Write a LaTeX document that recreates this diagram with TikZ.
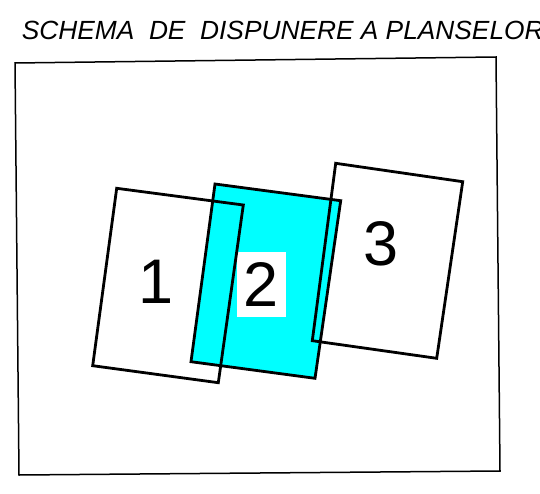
\documentclass[tikz,border=0pt]{standalone}
\usepackage{fontspec}
\setmainfont{Liberation Sans}
\definecolor{sheetcyan}{RGB}{0,255,255}
\begin{document}
\begin{tikzpicture}[x=1pt, y=-1pt,
    sheet/.style={line width=2.8pt, line join=miter},
    num/.style={inner sep=0pt, font=\fontsize{63}{70}\selectfont}]
    \useasboundingbox (0,0) rectangle (540,494);
    \node[anchor=base west, inner sep=0pt, font=\itshape\fontsize{26.3}{30}\selectfont] (title) at (21.7,39.3) {SCHEMA\ \ DE\ \ DISPUNERE A PLANSELOR};
    \draw[line width=1.5pt] (15,63) -- (496,57) -- (500,471) -- (19,475) -- cycle;
    \fill[sheetcyan] (215,184) -- (340.7,200.7) -- (315,378.3) -- (191,361.7) -- cycle;
    \node[num, fill=white, minimum width=49.3pt, minimum height=65.6pt] (n2) at (261.3,284.5) {2};
    \draw[sheet] (215,184) -- (340.7,200.7) -- (315,378.3) -- (191,361.7) -- cycle;
    \draw[sheet] (116.7,188.3) -- (243.3,205) -- (218.3,382.7) -- (92.7,365.7) -- cycle;
    \draw[sheet] (335.7,163.3) -- (462.7,181.7) -- (436.7,358.3) -- (312.3,340.7) -- cycle;
    \node[num] (n1) at (156,282) {1};
    \node[num] (n3) at (381,244) {3};
\end{tikzpicture}
\end{document}
